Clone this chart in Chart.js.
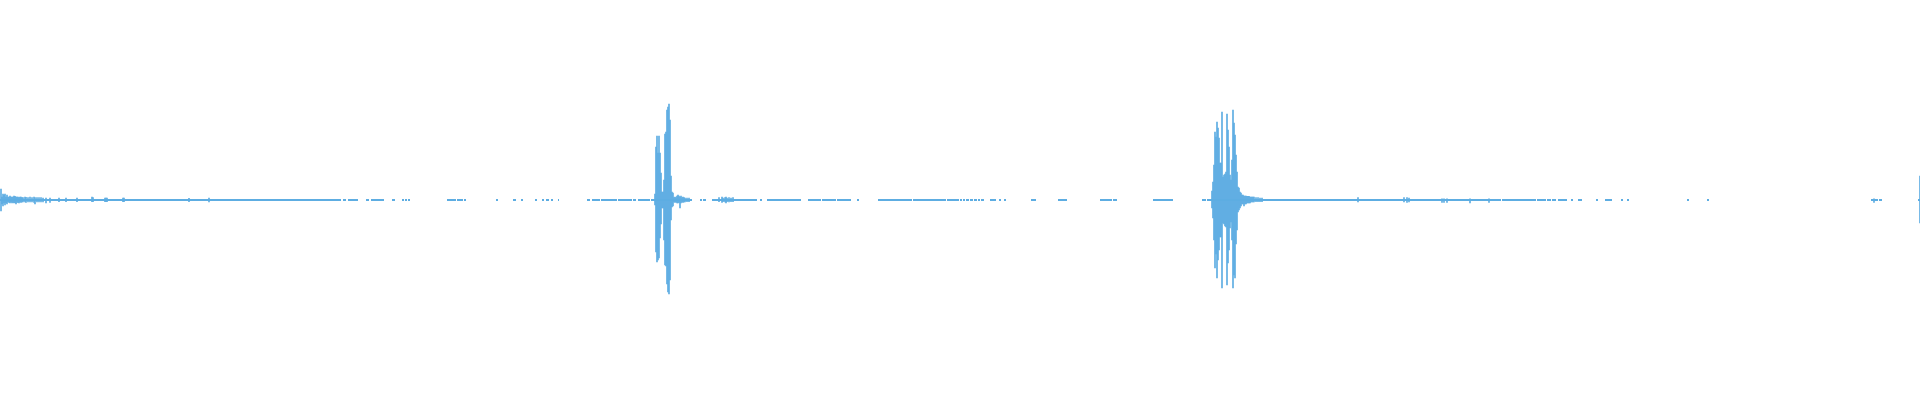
<!DOCTYPE html>
<html>
<head>
<meta charset="utf-8">
<script src="https://cdn.jsdelivr.net/npm/chart.js@4/dist/chart.umd.min.js"></script>
<style>
html, body { margin: 0; padding: 0; background: #fff; }
#wrap { width: 1920px; height: 400px; }
</style>
</head>
<body>
<div id="wrap"><canvas id="waveChart" width="1920" height="400"></canvas></div>
<script>
// columns (pixel index) where the envelope rises above the flat trace
const spikeX = [
  0,1,2,3,4,5,6,7,8,9,10,11,12,13,14,15,16,17,18,19,20,21,22,24,25,27,29,31,33,34,36,38,40,42,45,49,58,65,76,91,92,104,105,106,122,123,188,208,
  654,655,656,657,658,659,660,661,662,663,664,665,666,667,668,669,670,671,
  672,673,674,675,676,677,678,679,680,681,682,683,684,686,688,
  718,721,722,724,725,726,728,730,732,
  1211,1212,1213,1214,1215,1216,1217,1218,1219,1220,1221,1222,1223,1224,1225,1226,1227,1228,1229,1230,1231,1232,1233,1234,1235,1236,1237,1238,1239,
  1240,1241,1242,1243,1244,1245,1246,1247,1248,1249,1250,1251,1252,1253,1255,1257,1259,1261,
  1357,1403,1406,1408,1441,1443,1446,1469,1488,1873,1919
];
const spikeHi = [
  0.055,0.015,0.03,0.025,0.03,0.015,0.025,0.015,0.015,0.02,0.015,0.015,0.015,0.02,0.018,0.015,0.015,0.015,0.012,0.015,0.015,0.012,0.012,0.015,0.013,0.012,0.015,0.012,0.015,0.012,0.012,0.012,0.012,0.01,0.01,0.01,0.01,0.01,0.01,0.015,0.012,0.01,0.01,0.01,0.01,0.01,0.008,0.01,
  0.03,0.265,0.32,0.235,0.32,0.235,0.135,0.04,0.04,0.1,0.33,0.34,0.45,0.465,0.48,0.4,0.12,0.04,
  0.035,0.012,0.015,0.012,0.02,0.025,0.02,0.015,0.02,0.012,0.015,0.012,0.01,0.01,0.01,
  0.012,0.015,0.01,0.012,0.015,0.01,0.012,0.01,0.012,
  0.045,0.09,0.175,0.34,0.315,0.39,0.36,0.31,0.185,0.185,0.44,0.115,0.125,0.13,0.14,0.43,0.35,0.265,0.125,0.1,0.2,0.45,0.385,0.325,0.225,0.14,0.065,0.06,0.04,
  0.035,0.025,0.025,0.02,0.02,0.02,0.018,0.018,0.018,0.015,0.015,0.015,0.015,0.015,0.012,0.012,0.01,0.01,
  0.012,0.012,0.012,0.01,0.006,0.006,0.006,0.006,0.006,0.006,0.12
];
const spikeLo = [
  -0.055,-0.02,-0.03,-0.015,-0.025,-0.015,-0.02,-0.01,-0.012,-0.015,-0.01,-0.015,-0.012,-0.015,-0.013,-0.02,-0.012,-0.012,-0.015,-0.01,-0.012,-0.01,-0.01,-0.01,-0.012,-0.01,-0.01,-0.01,-0.012,-0.02,-0.01,-0.01,-0.01,-0.01,-0.015,-0.012,-0.008,-0.008,-0.008,-0.008,-0.008,-0.008,-0.008,-0.008,-0.008,-0.008,-0.008,-0.01,
  -0.025,-0.26,-0.31,-0.3,-0.29,-0.19,-0.12,-0.04,-0.04,-0.2,-0.325,-0.33,-0.42,-0.46,-0.47,-0.4,-0.1,-0.035,
  -0.03,-0.01,-0.012,-0.01,-0.015,-0.015,-0.012,-0.04,-0.015,-0.01,-0.012,-0.01,-0.01,-0.008,-0.008,
  -0.008,-0.012,-0.008,-0.01,-0.015,-0.008,-0.01,-0.008,-0.008,
  -0.04,-0.09,-0.2,-0.34,-0.27,-0.39,-0.3,-0.25,-0.185,-0.185,-0.44,-0.115,-0.12,-0.13,-0.135,-0.425,-0.315,-0.25,-0.14,-0.11,-0.2,-0.44,-0.375,-0.39,-0.22,-0.15,-0.06,-0.05,-0.04,
  -0.03,-0.02,-0.02,-0.03,-0.02,-0.02,-0.015,-0.015,-0.015,-0.015,-0.01,-0.01,-0.01,-0.01,-0.008,-0.008,-0.008,-0.008,
  -0.01,-0.01,-0.012,-0.01,-0.012,-0.012,-0.012,-0.015,-0.012,-0.012,-0.115
];

// runs of the flat trace, as pixel edges (start, end)
const runStart = [
  0,343,348,366,371,392,402,405,408,447,457,464,
  496,513,521,535,542,546,551,558,587,592,601,618,633,638,651,
  700,703,712,760,767,808,822,837,857,878,913,947,
  960,963,966,970,974,978,981,990,999,1004,1031,1058,1100,1113,1153,1202,1207,
  1502,1537,1547,1552,1558,1571,1578,1596,1605,1621,1627,1687,1707,1871,1879,1918
];
const runEnd = [
  341,346,358,369,384,395,404,407,410,456,463,466,
  498,516,523,537,544,549,553,559,590,600,617,632,636,650,692,
  702,706,757,762,801,821,836,851,859,912,946,959,
  962,965,969,973,977,980,984,996,1001,1006,1036,1067,1112,1117,1173,1206,1501,
  1536,1546,1551,1556,1567,1573,1582,1598,1612,1623,1629,1689,1709,1878,1882,1920
];

const waveColor = '#5dade2';

const spikeData = spikeX.map((x, i) => ({ x: x, y: [spikeLo[i], spikeHi[i]] }));
const runData = [];
runStart.forEach((s, i) => {
  runData.push({ x: s, y: 0 });
  runData.push({ x: runEnd[i], y: 0 });
  runData.push({ x: runEnd[i], y: null });
});

const ctx = document.getElementById('waveChart').getContext('2d');
const waveChart = new Chart(ctx, {
  type: 'bar',
  data: {
    datasets: [
      {
        type: 'line',
        data: runData,
        xAxisID: 'xe',
        borderColor: waveColor,
        borderWidth: 2,
        borderCapStyle: 'butt',
        pointRadius: 0,
        tension: 0,
        spanGaps: false,
        fill: false
      },
      {
        type: 'bar',
        data: spikeData,
        xAxisID: 'x',
        backgroundColor: waveColor,
        borderWidth: 0,
        barThickness: 1
      }
    ]
  },
  options: {
    responsive: false,
    animation: false,
    devicePixelRatio: 1,
    layout: { padding: 0, autoPadding: false },
    plugins: {
      legend: { display: false },
      tooltip: { enabled: false }
    },
    scales: {
      x: { type: 'linear', min: -0.5, max: 1919.5, offset: false, display: false },
      xe: { type: 'linear', min: 0, max: 1920, offset: false, display: false },
      y: { min: -1, max: 1, display: false }
    }
  }
});
</script>
</body>
</html>
